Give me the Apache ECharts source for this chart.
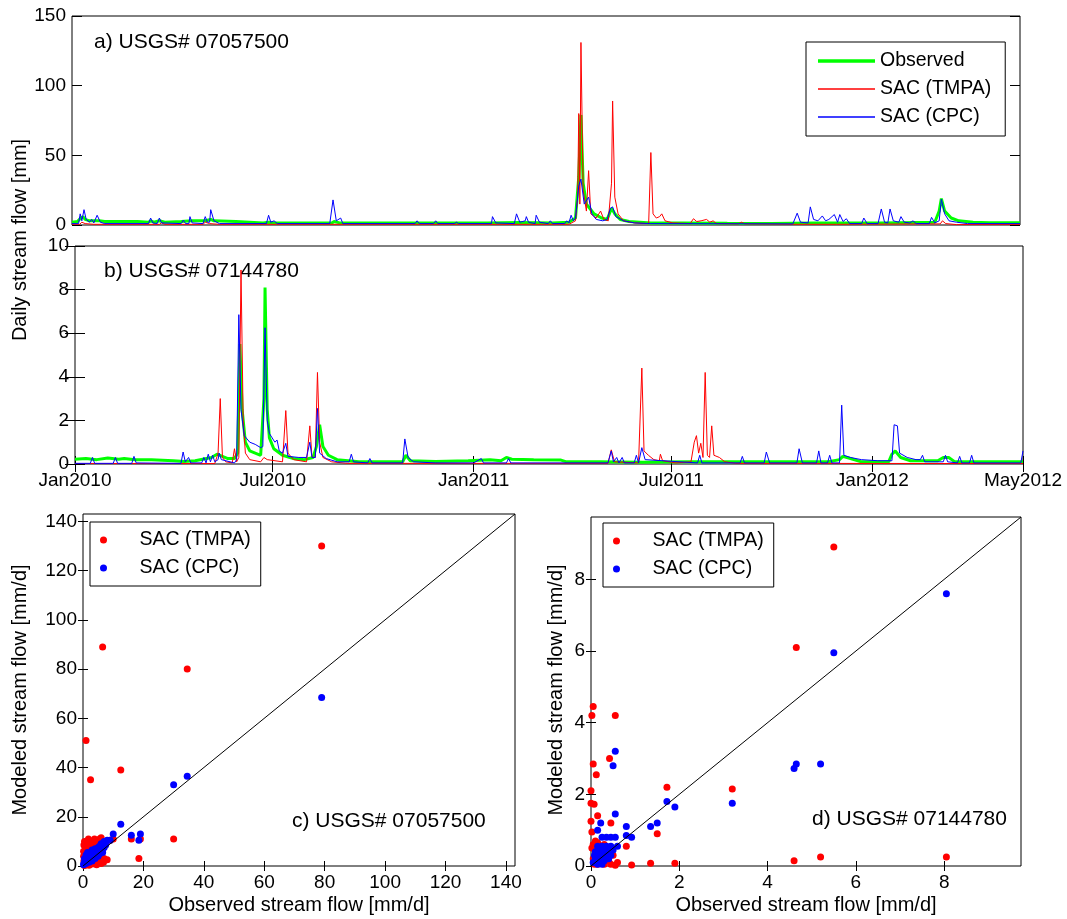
<!DOCTYPE html>
<html>
<head>
<meta charset="utf-8">
<script src="https://cdn.jsdelivr.net/npm/echarts@6/dist/echarts.min.js"></script>
<style>
  html, body { margin: 0; padding: 0; background: #fff; }
  #chart { width: 1067px; height: 919px; }
</style>
</head>
<body>
<div id="chart"></div>
<script>
// time axis: days since 1 Jan 2010
const monthTickDays = [0, 181, 365, 546, 730, 868];
const monthTickNames = ['Jan2010', 'Jul2010', 'Jan2011', 'Jul2011', 'Jan2012', 'May2012'];
const dayMax = 868;

// a) USGS# 07057500  [day, mm]
const obsA = [[0,2],[5,2.5],[8,5],[10,6],[12,4],[16,3],[25,3],[30,2.5],[60,2.5],[70,2],[72,3],[75,2],[80,3],[85,2],[100,2.5],[110,3],[122,3],[127,4],[130,3],[150,2.5],[175,1.5],[180,2],[185,1.5],[238,1.5],[240,2.5],[245,1.5],[300,1.5],[380,1.5],[410,1.8],[440,1.5],[455,2],[461,5],[464,34.5],[466,79],[468,30],[471,15],[474,12],[478,8],[485,5],[490,4],[494,12],[497,8],[502,4],[510,2.5],[530,1.5],[560,1.5],[600,1.2],[640,1],[660,1.3],[680,1.5],[740,1.5],[790,2],[794,10],[796,19],[799,10],[805,5],[812,3],[825,2],[840,1.7],[868,1.7]];
const tmpaA = [[0,0.5],[7,0.5],[9,2],[12,1],[20,0.5],[80,0.5],[82,1.5],[85,0.5],[120,0.5],[122,2],[126,1],[135,0.5],[455,0.5],[461,3],[463,20],[464,80],[465,15],[466,131],[468,25],[471,10],[473,39],[475,8],[480,5],[484,10],[487,4],[491,3],[494,30],[495,89],[497,20],[500,8],[505,3],[515,1.5],[528,1],[530,52],[532,8],[535,5],[538,6],[540,8],[543,3],[550,1.5],[566,1],[569,4.5],[572,2.5],[576,3],[581,4],[584,2],[587,3],[590,1],[610,0.8],[613,2],[616,0.8],[660,0.5],[700,0.5],[795,0.8],[797,3],[800,1],[810,0.3],[868,0.3]];
const cpcA = [[0,1],[6,1],[7.5,8],[9,3],[11,11],[13,4],[16,2],[18,4],[20,1.5],[23,7],[26,2],[30,1],[70,1],[72,5],[74,1.5],[78,1],[80,5],[82,1.5],[100,1],[102,3.5],[104,1],[107,1],[108,6],[110,1.5],[120,1],[122,6],[124,2],[126,2],[127,11],[130,3],[135,1],[178,1],[180,7],[182,2],[185,3],[188,1],[236,1],[239,18],[242,3],[246,5],[248,1],[314,1],[316,3],[318,1],[331,1],[333,3],[335,1],[350,1],[352,2],[354,1],[384,1],[385,6],[388,1.5],[405,1],[407,8],[410,2],[415,3],[416,6],[418,2],[424,1],[425,7],[428,2],[436,1],[438,3],[440,1],[451,1],[453,3],[455,1.5],[457,7],[459,3],[461,5],[464,28],[466,33],[469,15],[473,20],[476,8],[480,4],[486,3],[490,4],[493,12],[495,13],[498,6],[505,3],[515,1.5],[530,1],[660,0.8],[664,8.5],[667,2],[674,1.5],[676,13],[679,4],[683,3],[687,6.5],[690,3],[693,4],[698,7.5],[701,2],[703,7.5],[706,2.5],[709,4.5],[712,1],[723,1],[725,5],[728,1],[738,1],[741,11.5],[744,2],[747,1.5],[749,11.5],[752,3],[757,2],[759,6],[762,2],[767,1.5],[770,3],[773,1],[785,1],[787,5.5],[790,1.5],[794,3],[796,18.5],[799,8],[803,3],[810,2],[820,1],[868,1]];

// b) USGS# 07144780  [day, mm]
const obsB = [[0,0.22],[10,0.25],[20,0.2],[30,0.28],[40,0.22],[45,0.25],[55,0.2],[70,0.2],[90,0.15],[100,0.12],[110,0.15],[125,0.3],[130,0.45],[135,0.35],[140,0.25],[146,0.25],[149,0.5],[151,5.5],[153,2.5],[156,1.0],[160,0.6],[165,0.5],[170,0.4],[173,3],[174,8.1],[176,2.5],[178,1.2],[182,0.7],[190,0.4],[200,0.25],[210,0.2],[218,0.3],[221,0.8],[224,1.8],[227,0.8],[232,0.4],[240,0.2],[260,0.1],[300,0.1],[303,0.4],[307,0.15],[330,0.12],[360,0.15],[380,0.2],[390,0.15],[395,0.3],[400,0.22],[420,0.2],[445,0.18],[450,0.1],[480,0.1],[520,0.08],[560,0.1],[620,0.1],[690,0.1],[700,0.2],[703,0.35],[710,0.25],[720,0.1],[745,0.1],[748,0.45],[751,0.6],[756,0.3],[765,0.15],[790,0.15],[795,0.3],[800,0.3],[805,0.12],[868,0.1]];
const tmpaB = [[0,0.02],[128,0.02],[131,0.5],[133,3.0],[135,0.3],[138,0.1],[144,0.05],[146,0.7],[148,0.1],[150,0.3],[152,8.9],[154,2],[156,0.5],[160,0.2],[170,0.1],[173,0.3],[176,0.2],[190,0.1],[193,2.45],[195,0.5],[200,0.2],[212,0.1],[215,1.75],[217,0.3],[220,0.3],[222,4.2],[224,1],[227,0.3],[235,0.1],[250,0.03],[488,0.03],[491,0.65],[494,0.1],[516,0.05],[519,4.4],[521,0.6],[525,0.4],[530,0.2],[535,0.15],[536,0.45],[538,0.15],[550,0.05],[564,0.1],[567,1.0],[569,1.3],[571,0.5],[573,0.95],[575,0.3],[577,4.2],[579,0.4],[581,0.3],[583,1.75],[585,0.4],[590,0.3],[595,0.1],[605,0.03],[868,0.02]];
const cpcB = [[0,0.03],[14,0.03],[16,0.3],[18,0.03],[35,0.03],[37,0.3],[39,0.03],[52,0.03],[54,0.35],[56,0.05],[97,0.03],[99,0.55],[101,0.1],[104,0.3],[106,0.05],[116,0.05],[118,0.3],[120,0.05],[122,0.45],[124,0.1],[126,0.4],[128,0.1],[131,0.2],[132,0.5],[134,0.2],[146,0.05],[148,0.2],[150,6.85],[152,2.5],[155,1.3],[160,1.0],[165,0.9],[170,0.75],[172,0.8],[174,6.25],[176,2],[178,1.4],[183,1.0],[185,1.1],[187,0.6],[190,0.5],[193,0.95],[195,0.35],[205,0.3],[212,0.3],[215,1.0],[217,0.3],[220,0.3],[222,2.55],[224,0.5],[230,0.25],[240,0.1],[251,0.1],[253,0.45],[255,0.1],[268,0.05],[270,0.25],[272,0.05],[300,0.05],[302,1.15],[305,0.3],[310,0.1],[330,0.05],[365,0.05],[372,0.25],[374,0.05],[395,0.05],[397,0.25],[399,0.05],[488,0.05],[491,0.6],[493,0.1],[496,0.3],[498,0.05],[501,0.3],[503,0.05],[512,0.05],[514,0.4],[516,0.05],[519,0.75],[522,0.2],[570,0.05],[572,0.4],[574,0.05],[609,0.05],[611,0.35],[613,0.05],[631,0.05],[633,0.55],[636,0.05],[661,0.05],[663,0.7],[666,0.05],[679,0.05],[681,0.6],[683,0.05],[689,0.05],[691,0.4],[693,0.05],[700,0.05],[702,2.7],[704,0.4],[710,0.3],[720,0.2],[735,0.15],[748,0.15],[750,1.8],[753,1.75],[755,0.5],[762,0.3],[770,0.2],[774,0.2],[776,0.4],[778,0.1],[795,0.1],[797,0.4],[799,0.1],[808,0.05],[810,0.35],[812,0.05],[819,0.05],[821,0.4],[823,0.05],[866,0.05],[868,0.6]];

// c) scatter, observed vs modeled [mm/d]
const tmpaC = [[79,130],[6.5,89],[34.5,80],[1,51],[2.5,35],[12.5,39],[30,11],[16,11],[19,11],[8,2.5],[18.5,3],[6,11.5],[5.5,11],[4,9.5],[3,10],[2,9.5],[1.5,10],[0.8,9],[0.3,8.5],[0.2,6],[1,7],[2.5,8],[3.5,8.5],[4.5,10],[5,8],[6.5,9],[7.5,10],[10,11],[9,10.5],[0.5,4],[1.5,5],[3,6],[4,7],[5,6],[0.3,2],[1,3],[2,2],[3,3],[4,2.5],[5,2],[6,2.5],[7,3],[1,0.5],[2,0.3],[3,0.8],[4,1],[5,1.5],[6,1],[0.5,0.2],[2,5],[1.5,1],[2.5,1.5],[0.5,10],[1.2,8],[2.8,7],[3.8,11],[5.8,3],[6.8,1.5],[4.5,0.5],[1.8,11],[0.2,4],[3.2,1.2]];
const cpcC = [[79,68.5],[34.5,36.5],[30,33],[12.5,17],[10,13],[16,12.5],[19,13],[18.5,10.5],[8,10.5],[9,10.5],[7,10],[6,9],[5,7.5],[4.5,6],[4,5.5],[3.5,5],[3,4.5],[2.5,4],[2,3.5],[1.5,3],[1,2.5],[0.5,1.5],[0.2,0.5],[1,4.5],[2,5],[3,6.5],[4,7],[5.5,8],[6,6],[5,4],[4,3],[3,2],[2,1.5],[1,1],[0.5,3],[1.5,5.5],[2.5,2.5],[3.5,3],[6.5,7],[7.5,8.5],[0.3,1],[4.5,4],[5.5,5],[6.5,5.5],[7,7.5],[3,4],[2,2.5],[1.5,2]];
const diagC = [[0,0],[143,143]];
const ticksC = [0, 20, 40, 60, 80, 100, 120, 140];

// d) scatter, observed vs modeled [mm/d]
const tmpaD = [[5.5,8.9],[4.65,6.1],[0.02,4.2],[0.05,4.45],[0.55,4.2],[0.42,3.0],[0.05,2.85],[0.12,2.55],[1.72,2.2],[3.2,2.15],[0,2.1],[0,1.75],[0.07,1.72],[0.15,1.4],[0,1.25],[0.45,1.2],[0.02,0.95],[1.5,0.9],[0.8,0.55],[4.6,0.15],[5.2,0.25],[8.05,0.25],[1.35,0.08],[1.9,0.08],[0.92,0.03],[0.55,0.02],[0.45,0.05],[0.3,0.05],[0.1,0.7],[0.05,0.6],[0.15,0.65],[0.2,0.5],[0.3,0.6],[0.1,0.4],[0.2,0.3],[0.35,0.35],[0.05,0.2],[0.25,0.1],[0.4,0.15],[0.15,0.05],[0.1,0.15],[0.5,0.3],[0.02,0.5],[0.08,0.05],[0.6,0.1]];
const cpcD = [[8.05,7.6],[5.5,5.95],[4.6,2.72],[4.65,2.85],[5.2,2.85],[0.55,3.2],[0.5,2.8],[3.2,1.75],[1.72,1.8],[1.9,1.65],[0.55,1.45],[1.35,1.1],[1.5,1.2],[0.8,1.1],[0.22,1.2],[0.15,1.0],[0.8,0.85],[0.92,0.8],[0.25,0.8],[0.35,0.8],[0.45,0.8],[0.55,0.8],[0.6,0.55],[0.15,0.55],[0.25,0.55],[0.35,0.55],[0.45,0.55],[0.1,0.4],[0.2,0.4],[0.3,0.4],[0.4,0.4],[0.15,0.3],[0.25,0.25],[0.35,0.3],[0.45,0.3],[0.1,0.2],[0.2,0.15],[0.3,0.15],[0.05,0.1],[0.15,0.05],[0.25,0.05],[0.4,0.2],[0.5,0.45],[0.08,0.3]];
const diagD = [[0,0],[9.74,9.74]];
const ticksD = [0, 2, 4, 6, 8];

const FONT = 'Liberation Sans, Arial, Helvetica, sans-serif';
const GREEN = '#00ff00', RED = '#ff0000', BLUE = '#0000ff';
const TICK_FS = 19, TITLE_FS = 20, PANEL_FS = 21;

const chart = echarts.init(document.getElementById('chart'), null, { renderer: 'canvas' });

// box-style axis (MATLAB look): inward ticks, no split lines
function axisBase(extra) {
  return Object.assign({
    type: 'value',
    axisLine: { show: false },
    axisTick: { show: true, inside: true, length: 8, lineStyle: { color: '#000', width: 1 } },
    axisLabel: { show: true, color: '#000', fontFamily: FONT, fontSize: TICK_FS, margin: 6 },
    splitLine: { show: false }
  }, extra);
}
function mirror(extra) {
  const a = axisBase(extra);
  a.axisLabel = { show: false };
  return a;
}
function ticks(len, values) {
  const t = { show: true, inside: true, length: len, lineStyle: { color: '#000' } };
  if (values) t.customValues = values;
  return t;
}
function labels(values, margin, fmt) {
  const l = { show: true, color: '#000', fontFamily: FONT, fontSize: TICK_FS, margin: margin, customValues: values };
  if (fmt) l.formatter = fmt;
  return l;
}
const boxGrid = { show: true, borderColor: '#000', borderWidth: 1, backgroundColor: 'transparent', containLabel: false };

const monthLabel = v => {
  const i = monthTickDays.indexOf(v);
  return i >= 0 ? monthTickNames[i] : '';
};

function title(text, left, top) {
  return { type: 'text', left: left, top: top, style: { text: text, font: PANEL_FS + 'px ' + FONT, fill: '#000' } };
}
function axisTitle(text, x, y, vertical) {
  return { type: 'text', x: x, y: y, rotation: vertical ? Math.PI / 2 : 0,
    style: { text: text, font: TITLE_FS + 'px ' + FONT, fill: '#000', align: 'center', verticalAlign: 'middle' } };
}

const legendText = { fontFamily: FONT, fontSize: 19.5, color: '#000' };

const option = {
  animation: false,
  backgroundColor: '#fff',
  textStyle: { fontFamily: FONT, color: '#000' },
  grid: [
    Object.assign({ left: 72, top: 16, width: 948, height: 209 }, boxGrid),
    Object.assign({ left: 75, top: 246, width: 948, height: 218 }, boxGrid),
    Object.assign({ left: 83, top: 514, width: 432, height: 352 }, boxGrid),
    Object.assign({ left: 591, top: 517, width: 430, height: 349 }, boxGrid)
  ],
  xAxis: [
    axisBase({ gridIndex: 0, min: 0, max: dayMax, axisTick: { show: false }, axisLabel: { show: false } }),
    axisBase({ gridIndex: 1, min: 0, max: dayMax, axisTick: ticks(8, monthTickDays), axisLabel: labels(monthTickDays, 7, monthLabel) }),
    mirror({ gridIndex: 1, position: 'top', min: 0, max: dayMax, axisTick: ticks(8, monthTickDays) }),
    axisBase({ gridIndex: 2, min: 0, max: 143, axisTick: ticks(5, ticksC), axisLabel: labels(ticksC, 7) }),
    mirror({ gridIndex: 2, position: 'top', min: 0, max: 143, axisTick: ticks(5, ticksC) }),
    axisBase({ gridIndex: 3, min: 0, max: 9.74, axisTick: ticks(5, ticksD), axisLabel: labels(ticksD, 7) }),
    mirror({ gridIndex: 3, position: 'top', min: 0, max: 9.74, axisTick: ticks(5, ticksD) })
  ],
  yAxis: [
    axisBase({ gridIndex: 0, min: 0, max: 150, interval: 50, axisTick: ticks(10) }),
    mirror({ gridIndex: 0, position: 'right', min: 0, max: 150, interval: 50, axisTick: ticks(10) }),
    axisBase({ gridIndex: 1, min: 0, max: 10, interval: 2, axisTick: ticks(10) }),
    mirror({ gridIndex: 1, position: 'right', min: 0, max: 10, interval: 2, axisTick: ticks(10) }),
    axisBase({ gridIndex: 2, min: 0, max: 143, axisTick: ticks(5, ticksC), axisLabel: labels(ticksC, 6) }),
    mirror({ gridIndex: 2, position: 'right', min: 0, max: 143, axisTick: ticks(5, ticksC) }),
    axisBase({ gridIndex: 3, min: 0, max: 9.74, axisTick: ticks(5, ticksD), axisLabel: labels(ticksD, 6) }),
    mirror({ gridIndex: 3, position: 'right', min: 0, max: 9.74, axisTick: ticks(5, ticksD) })
  ],
  legend: [
    {
      orient: 'vertical', left: 806, top: 42, selectedMode: false,
      borderColor: '#000', borderWidth: 1, padding: [9, 14, 9, 12], backgroundColor: '#fff',
      itemWidth: 57, itemHeight: 14, itemGap: 8,
      textStyle: legendText,
      data: [
        { name: 'Observed', icon: 'path://M0,0 H57 V3.5 H0 Z' },
        { name: 'SAC (TMPA)', icon: 'path://M0,0 H57 V1.5 H0 Z' },
        { name: 'SAC (CPC)', icon: 'path://M0,0 H57 V1.5 H0 Z' }
      ]
    },
    {
      orient: 'vertical', left: 90, top: 522, selectedMode: false,
      borderColor: '#000', borderWidth: 1, padding: [8, 10, 8, 10], backgroundColor: '#fff',
      itemWidth: 62, itemHeight: 7, itemGap: 8,
      textStyle: legendText,
      data: [{ name: 'SAC (TMPA)', icon: 'circle' }, { name: 'SAC (CPC)', icon: 'circle' }]
    },
    {
      orient: 'vertical', left: 603, top: 523, selectedMode: false,
      borderColor: '#000', borderWidth: 1, padding: [8, 10, 8, 10], backgroundColor: '#fff',
      itemWidth: 62, itemHeight: 7, itemGap: 8,
      textStyle: legendText,
      data: [{ name: 'SAC (TMPA)', icon: 'circle' }, { name: 'SAC (CPC)', icon: 'circle' }]
    }
  ],
  graphic: [
    title('a) USGS# 07057500', 94, 32),
    title('b) USGS# 07144780', 104, 261),
    title('c) USGS# 07057500', 292, 811),
    title('d) USGS# 07144780', 812, 809),
    axisTitle('Daily stream flow [mm]', 20, 240, true),
    axisTitle('Modeled stream flow [mm/d]', 20, 690, true),
    axisTitle('Modeled stream flow [mm/d]', 556, 690, true),
    axisTitle('Observed stream flow [mm/d]', 299, 905, false),
    axisTitle('Observed stream flow [mm/d]', 806, 905, false)
  ],
  series: [
    { name: 'Observed', type: 'line', xAxisIndex: 0, yAxisIndex: 0, data: obsA, symbol: 'none', lineStyle: { color: GREEN, width: 3 }, itemStyle: { color: GREEN }, z: 2 },
    { name: 'SAC (TMPA)', type: 'line', xAxisIndex: 0, yAxisIndex: 0, data: tmpaA, symbol: 'none', lineStyle: { color: RED, width: 1 }, itemStyle: { color: RED }, z: 3 },
    { name: 'SAC (CPC)', type: 'line', xAxisIndex: 0, yAxisIndex: 0, data: cpcA, symbol: 'none', lineStyle: { color: BLUE, width: 1 }, itemStyle: { color: BLUE }, z: 4 },
    { name: 'Observed', type: 'line', xAxisIndex: 1, yAxisIndex: 2, data: obsB, symbol: 'none', lineStyle: { color: GREEN, width: 3 }, itemStyle: { color: GREEN }, z: 2 },
    { name: 'SAC (TMPA)', type: 'line', xAxisIndex: 1, yAxisIndex: 2, data: tmpaB, symbol: 'none', lineStyle: { color: RED, width: 1 }, itemStyle: { color: RED }, z: 3 },
    { name: 'SAC (CPC)', type: 'line', xAxisIndex: 1, yAxisIndex: 2, data: cpcB, symbol: 'none', lineStyle: { color: BLUE, width: 1 }, itemStyle: { color: BLUE }, z: 4 },
    { name: 'SAC (TMPA)', type: 'scatter', xAxisIndex: 3, yAxisIndex: 4, data: tmpaC, symbolSize: 7, itemStyle: { color: RED, opacity: 1 }, z: 3 },
    { name: 'SAC (CPC)', type: 'scatter', xAxisIndex: 3, yAxisIndex: 4, data: cpcC, symbolSize: 7, itemStyle: { color: BLUE, opacity: 1 }, z: 4 },
    { name: '1:1 c', type: 'line', xAxisIndex: 3, yAxisIndex: 4, data: diagC, symbol: 'none', lineStyle: { color: '#000', width: 1 }, z: 5 },
    { name: 'SAC (TMPA)', type: 'scatter', xAxisIndex: 5, yAxisIndex: 6, data: tmpaD, symbolSize: 7, itemStyle: { color: RED, opacity: 1 }, z: 3 },
    { name: 'SAC (CPC)', type: 'scatter', xAxisIndex: 5, yAxisIndex: 6, data: cpcD, symbolSize: 7, itemStyle: { color: BLUE, opacity: 1 }, z: 4 },
    { name: '1:1 d', type: 'line', xAxisIndex: 5, yAxisIndex: 6, data: diagD, symbol: 'none', lineStyle: { color: '#000', width: 1 }, z: 5 }
  ]
};

chart.setOption(option);
</script>
</body>
</html>
